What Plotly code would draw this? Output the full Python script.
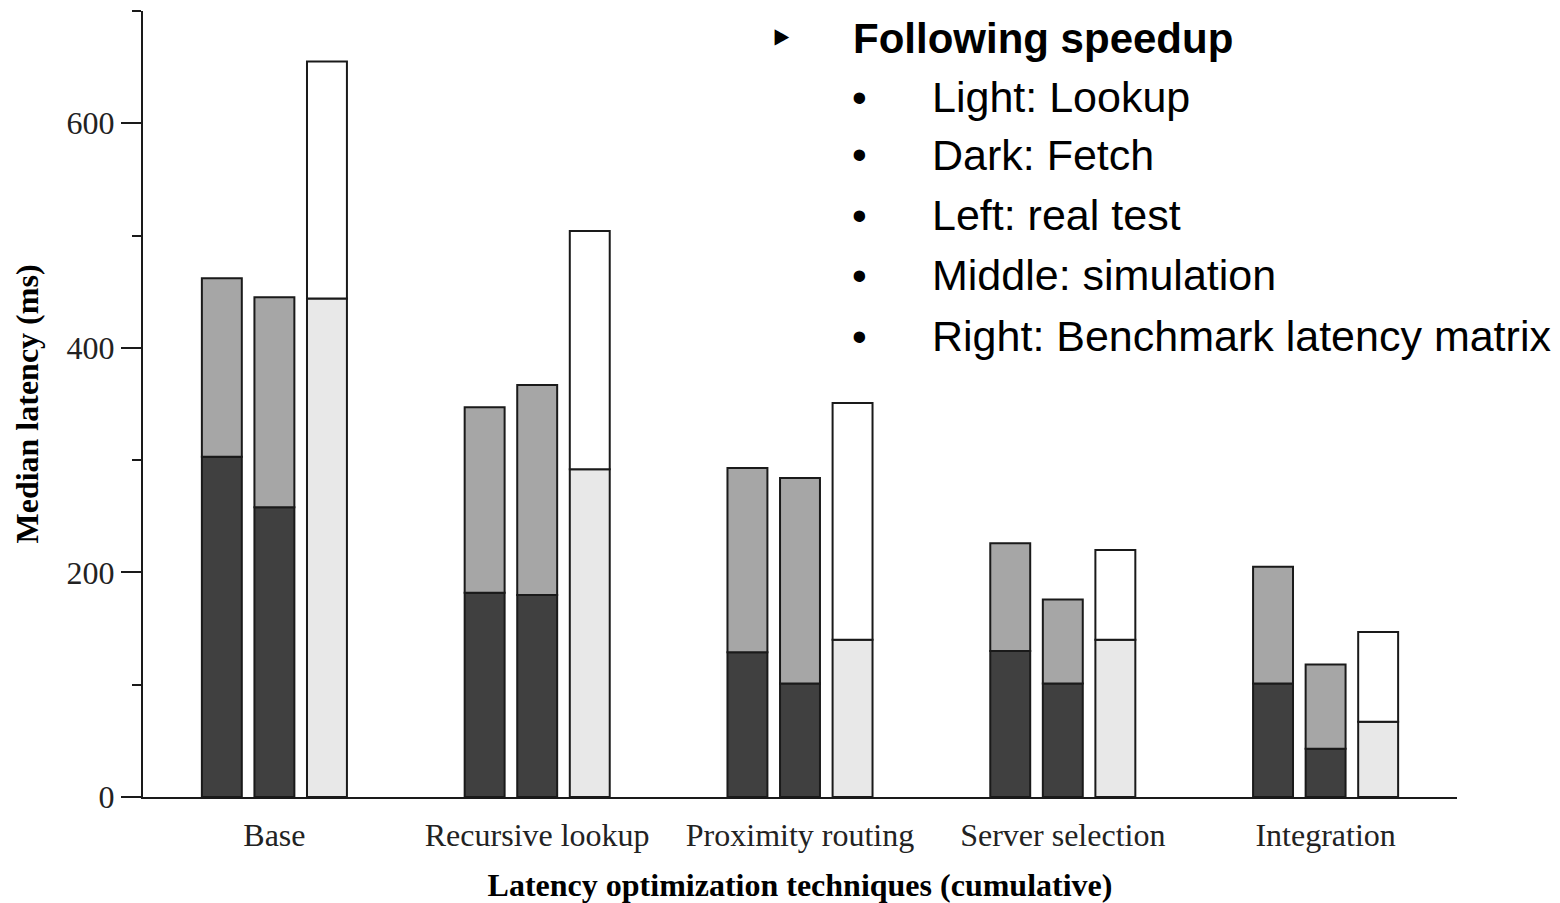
import plotly.graph_objects as go

categories = ["Base", "Recursive lookup", "Proximity routing", "Server selection", "Integration"]

# Left bars: real test
real_fetch = [303, 182, 129, 130, 101]
real_total = [462, 347, 293, 226, 205]
# Middle bars: simulation
sim_fetch = [258, 180, 101, 101, 43]
sim_total = [445, 367, 284, 176, 118]
# Right bars: benchmark latency matrix
matrix_fetch = [444, 292, 140, 140, 67]
matrix_total = [655, 504, 351, 220, 147]

y_tickvals = [0, 200, 400, 600]
note_title = "Following speedup"
note_lines = ["Light: Lookup", "Dark: Fetch", "Left: real test", "Middle: simulation",
              "Right: Benchmark latency matrix"]

series = [
    (real_fetch, real_total, -0.2, "#404040", "#a6a6a6"),
    (sim_fetch, sim_total, 0.0, "#404040", "#a6a6a6"),
    (matrix_fetch, matrix_total, 0.2, "#e8e8e8", "#ffffff"),
]

fig = go.Figure()
idx = list(range(len(categories)))
for fetch, total, off, c_low, c_high in series:
    xs = [i + off for i in idx]
    lookup = [t - f for t, f in zip(total, fetch)]
    fig.add_trace(go.Bar(x=xs, y=fetch, width=0.152, marker=dict(color=c_low, line=dict(color="#1a1a1a", width=2)),
                         showlegend=False))
    fig.add_trace(go.Bar(x=xs, y=lookup, width=0.152, marker=dict(color=c_high, line=dict(color="#1a1a1a", width=2)),
                         showlegend=False))

serif = "Liberation Serif, Times New Roman, serif"
fig.update_layout(
    barmode="relative",
    width=1560, height=903,
    margin=dict(l=143, r=103, t=11, b=106),
    plot_bgcolor="white", paper_bgcolor="white",
    font=dict(family=serif, color="black", size=32),
    xaxis=dict(range=[-0.5, 4.5], tickvals=idx, ticktext=categories, showgrid=False, zeroline=False,
               showline=True, linecolor="#1a1a1a", linewidth=2, ticks="", ticklabelstandoff=9,
               automargin=False,
               tickfont=dict(family=serif, size=32, color="#222"),
               title=dict(text="<b>Latency optimization techniques (cumulative)</b>",
                          font=dict(family=serif, size=32), standoff=21)),
    yaxis=dict(range=[0, 700], tickvals=y_tickvals, showgrid=False, zeroline=False,
               showline=True, linecolor="#1a1a1a", linewidth=2, ticks="outside", ticklen=20,
               tickwidth=2, tickcolor="#1a1a1a", automargin=False,
               tickfont=dict(family=serif, size=32, color="#222"),
               minor=dict(tickvals=[100, 300, 500, 700], ticks="outside", ticklen=9, tickwidth=2,
                          tickcolor="#1a1a1a", showgrid=False),
               title=dict(text="<b>Median latency (ms)</b>", font=dict(family=serif, size=32), standoff=18)),
)

sans = "Liberation Sans, Arial, sans-serif"
def px_x(p):
    return (p - 143) / 1314
def px_y(p):
    return (797 - p) / 786

fig.add_annotation(x=px_x(781), y=px_y(38), xref="paper", yref="paper", text="‣", showarrow=False,
                   xanchor="center", yanchor="middle", font=dict(family="DejaVu Sans", size=44, color="black"))
fig.add_annotation(x=px_x(851), y=px_y(38), xref="paper", yref="paper", text="<b>" + note_title + "</b>",
                   showarrow=False, xanchor="left", yanchor="middle", font=dict(family=sans, size=42, color="black"))
line_y = [97, 155, 215, 275, 336]
for txt, py in zip(note_lines, line_y):
    fig.add_annotation(x=px_x(859), y=px_y(py), xref="paper", yref="paper", text="•", showarrow=False,
                       xanchor="center", yanchor="middle", font=dict(family=sans, size=42, color="black"))
    fig.add_annotation(x=px_x(930), y=px_y(py), xref="paper", yref="paper", text=txt, showarrow=False,
                       xanchor="left", yanchor="middle", font=dict(family=sans, size=43, color="black"))

fig.write_html("out.html", config={"displayModeBar": False},
               post_script="document.body.style.margin='0';document.body.style.overflow='hidden';")
